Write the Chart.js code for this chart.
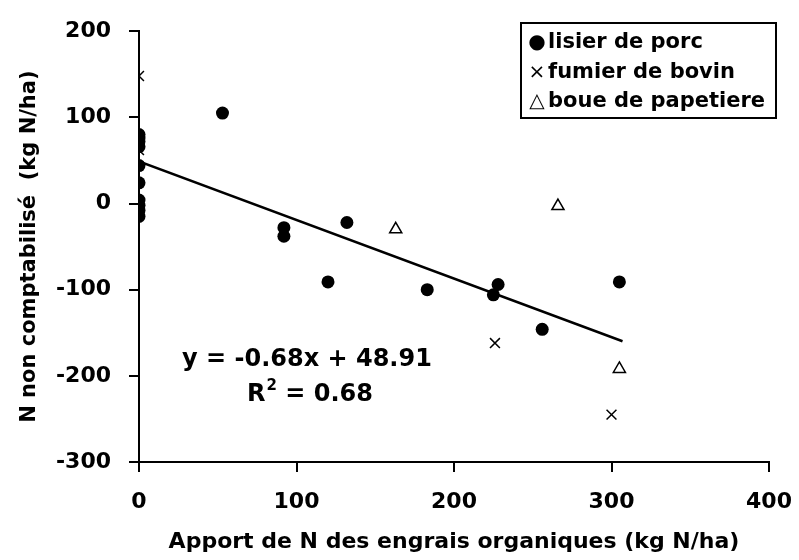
<!DOCTYPE html>
<html>
<head>
<meta charset="utf-8">
<script src="https://cdn.jsdelivr.net/npm/chart.js@4.4.1/dist/chart.umd.min.js"></script>
<style>
html, body { margin: 0; padding: 0; background: #fff; }
#wrap { position: relative; width: 799px; height: 560px; }
#legende {
    position: absolute; left: 520px; top: 22px; width: 257px; height: 97px;
    border: 2px solid #000; box-sizing: border-box; padding: 3px 0 0 4px;
    font: bold 21px "DejaVu Sans", sans-serif; color: #000;
}
#legende div { height: 29.5px; line-height: 29.5px; white-space: nowrap; }
#legende span { display: inline-block; width: 22px; text-align: center; font-size: 20px; font-weight: normal; vertical-align: top; }
</style>
</head>
<body>
<div id="wrap">
    <canvas id="graphe" width="799" height="560"></canvas>
    <div id="legende"></div>
</div>
<script>
'use strict';
// noms des series
var noms     = ['lisier de porc', 'fumier de bovin', 'boue de papetiere'];
var symboles = ['\u25CF', '\u00D7', '\u25B3'];

// lisier de porc
var lisierX = [0, 0, 0, 0, 0, 0, 0, 0, 0, 0, 53, 92, 92, 120, 132, 183, 225, 228, 256, 305];
var lisierY = [80, 76, 72, 66, 44, 24, 4, -2, -8, -15, 105, -28, -38, -91, -22, -100, -106, -94, -146, -91];

// fumier de bovin
var fumierX = [0, 0, 226, 300];
var fumierY = [148, 62, -162, -245];

// boue de papetiere
var boueX = [163, 266, 305];
var boueY = [-30, -3, -192];

// droite de regression
var droiteX = [0, 307];
var droiteY = [48.9, -159.9];

var ticksX = [0, 100, 200, 300, 400];
var ticksY = [-300, -200, -100, 0, 100, 200];

var equation = 'y = -0.68x + 48.91';
var r2       = '0.68';

function points(xs, ys) {
    return xs.map(function(x, i){ return {x : x, y : ys[i]}; });
}

var police = { family : '"DejaVu Sans", sans-serif', size : 22, weight : 'bold' };

// legende en html
var leg = document.getElementById('legende');
noms.forEach(function(n, i){
    var d = document.createElement('div');
    d.innerHTML = '<span>' + symboles[i] + '</span>' + n;
    leg.appendChild(d);
});

var texteEquation = {
    id : 'texteEquation',
    afterDraw : function(chart) {
        var ctx = chart.ctx;
        ctx.save();
        ctx.fillStyle = '#000';
        ctx.textBaseline = 'alphabetic';
        ctx.font = 'bold 24px "DejaVu Sans", sans-serif';
        ctx.fillText(equation, 182, 366);
        ctx.fillText('R', 247, 401);
        var w = ctx.measureText('R').width;
        ctx.font = 'bold 15px "DejaVu Sans", sans-serif';
        ctx.fillText('2', 247 + w + 1, 390);
        var w2 = ctx.measureText('2').width;
        ctx.font = 'bold 24px "DejaVu Sans", sans-serif';
        ctx.fillText(' = ' + r2, 247 + w + w2 + 1, 401);
        ctx.restore();
    }
};

var config = {
    type : 'scatter',
    data : {
        datasets : [{
            label           : noms[0],
            data            : points(lisierX, lisierY),
            pointStyle      : 'circle',
            pointRadius     : 6.5,
            backgroundColor : '#000',
            borderColor     : '#000',
            borderWidth     : 0,
        }, {
            label           : noms[1],
            data            : points(fumierX, fumierY),
            pointStyle      : 'crossRot',
            pointRadius     : 7,
            borderColor     : '#000',
            borderWidth     : 1.5,
        }, {
            label           : noms[2],
            data            : points(boueX, boueY),
            pointStyle      : 'triangle',
            pointRadius     : 7,
            backgroundColor : '#fff',
            borderColor     : '#000',
            borderWidth     : 1.5,
        }, {
            type        : 'line',
            label       : 'regression',
            data        : points(droiteX, droiteY),
            borderColor : '#000',
            borderWidth : 2.5,
            pointRadius : 0,
            fill        : false,
        }]
    },
    options : {
        responsive : false,
        animation  : false,
        layout     : { padding : { left : 0, top : 24, right : 30, bottom : 0 } },
        plugins    : {
            legend  : { display : false },
            tooltip : { enabled : false },
        },
        scales : {
            x : {
                type : 'linear',
                min  : 0,
                max  : 400,
                afterBuildTicks : function(s){ s.ticks = ticksX.map(function(v){ return {value : v}; }); },
                afterFit : function(s){ s.height = 98; s.paddingLeft = 0; s.paddingRight = 0; },
                grid   : { drawOnChartArea : false, tickLength : 10, color : '#000', lineWidth : 2 },
                border : { color : '#000', width : 2 },
                ticks  : { color : '#000', font : police, padding : 17, maxRotation : 0 },
                title  : {
                    display : true,
                    text    : 'Apport de N des engrais organiques (kg N/ha)',
                    color   : '#000',
                    font    : police,
                    padding : { top : 0, bottom : 5 },
                },
            },
            y : {
                type : 'linear',
                min  : -300,
                max  : 200,
                afterBuildTicks : function(s){ s.ticks = ticksY.map(function(v){ return {value : v}; }); },
                afterFit : function(s){ s.width = 139; },
                grid   : { drawOnChartArea : false, tickLength : 10, color : '#000', lineWidth : 2 },
                border : { color : '#000', width : 2 },
                ticks  : { color : '#000', font : police, padding : 18 },
                title  : {
                    display : true,
                    text    : 'N non comptabilisé  (kg N/ha)',
                    color   : '#000',
                    font    : { family : police.family, size : 21, weight : 'bold' },
                    padding : { top : 17, bottom : 0 },
                },
            },
        },
    },
    plugins : [texteEquation],
};

var ctxGraphe = document.getElementById('graphe').getContext('2d');
window.graphe = new Chart(ctxGraphe, config);
</script>
</body>
</html>
